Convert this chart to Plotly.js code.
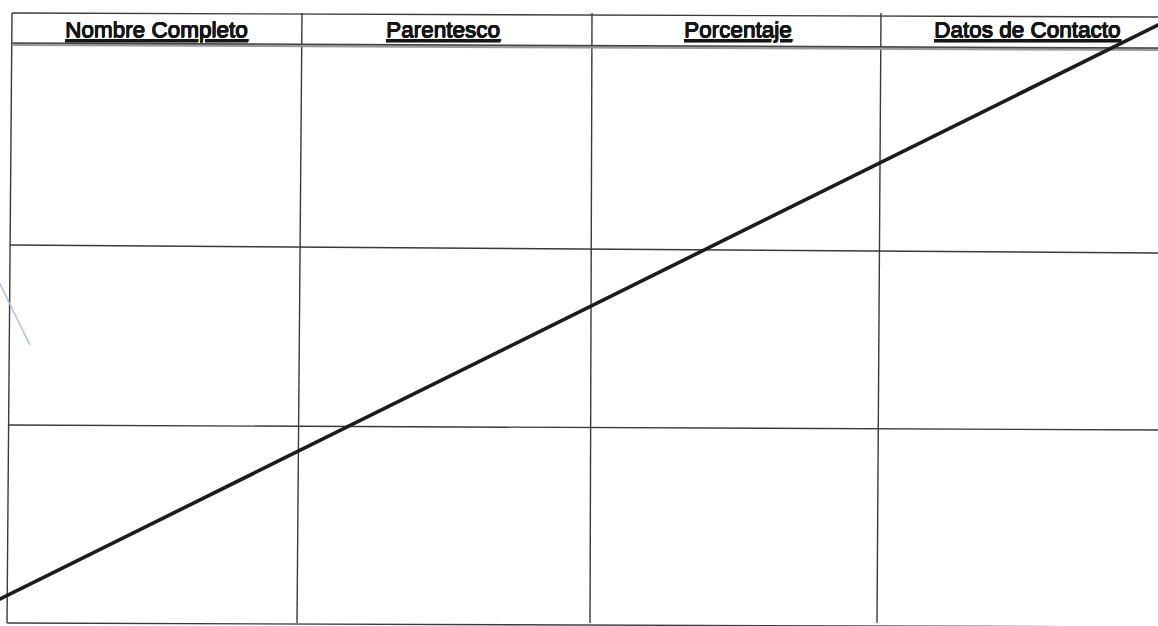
<!DOCTYPE html>
<html>
<head>
<meta charset="utf-8">
<script src="https://cdn.plot.ly/plotly-3.0.1.min.js"></script>
<style>html,body{margin:0;padding:0;background:#fff;}#chart{width:1158px;height:626px;}</style>
</head>
<body>
<div id="chart"></div>
<script>
// Header labels of the form table
const headers = ["Nombre Completo", "Parentesco", "Porcentaje", "Datos de Contacto"];
const headerCenters = [156, 443, 738, 1027];
const headerY = 29;

// Vertical rule positions (x at top, x at bottom)
const colTopX = [12, 302, 592, 881];
const colBottomX = [7, 297, 590, 877];
const tableTopY = 13;
const tableBottomY = 623;

// Horizontal rule positions (y at left edge, y at right edge)
const rowLeftY = [13, 245, 425, 623];
const rowRightY = [17, 253, 430, 627];
const headerRuleY = [43, 48];
const tableRightX = 1158;

// Cross-out stroke and faint pen mark
const strikeX = [-4, 1160];
const strikeY = [601, 24];
const penX = [-3, 30];
const penY = [278, 345];

function lerp(a, b, t) { return a + (b - a) * t; }

// grid lines
const gx = [], gy = [];
colTopX.forEach((x, i) => {
  gx.push(x, colBottomX[i], null);
  gy.push(tableTopY, tableBottomY, null);
});
rowLeftY.forEach((y, i) => {
  const lx = lerp(colTopX[0], colBottomX[0], (y - tableTopY) / (tableBottomY - tableTopY));
  gx.push(lx, tableRightX, null);
  gy.push(y, rowRightY[i], null);
});

const traces = [
  {x: gx, y: gy, mode: "lines", line: {color: "#3a3a3a", width: 1.4}, hoverinfo: "skip", showlegend: false},
  {x: [colTopX[0], tableRightX], y: [headerRuleY[0] + 1.5, headerRuleY[1] + 1.5], mode: "lines", line: {color: "#9a9a9a", width: 3}, hoverinfo: "skip", showlegend: false},
  {x: [colTopX[0], tableRightX], y: headerRuleY, mode: "lines", line: {color: "#444", width: 1.5}, hoverinfo: "skip", showlegend: false},
  {x: penX, y: penY, mode: "lines", line: {color: "#a9bde3", width: 1.5}, hoverinfo: "skip", showlegend: false},
  {x: strikeX, y: strikeY, mode: "lines", line: {color: "#1c1c1c", width: 3.6}, hoverinfo: "skip", showlegend: false}
];

const annotations = headers.map((h, i) => ({
  x: headerCenters[i], y: headerY, xref: "x", yref: "y",
  text: "<u>" + h + "</u>", showarrow: false,
  xanchor: "center", yanchor: "middle",
  font: {family: "Liberation Sans, Arial, sans-serif", size: 22.5, color: "#161616",
         shadow: "0.6px 0 0 #161616, 0 0.6px 0 #161616"}
}));

const layout = {
  width: 1158, height: 626,
  margin: {l: 0, r: 0, t: 0, b: 0},
  paper_bgcolor: "#ffffff", plot_bgcolor: "#ffffff",
  xaxis: {range: [0, 1158], visible: false, fixedrange: true},
  yaxis: {range: [626, 0], visible: false, fixedrange: true},
  annotations: annotations,
  showlegend: false
};

Plotly.newPlot("chart", traces, layout, {staticPlot: true, displayModeBar: false});
</script>
</body>
</html>
